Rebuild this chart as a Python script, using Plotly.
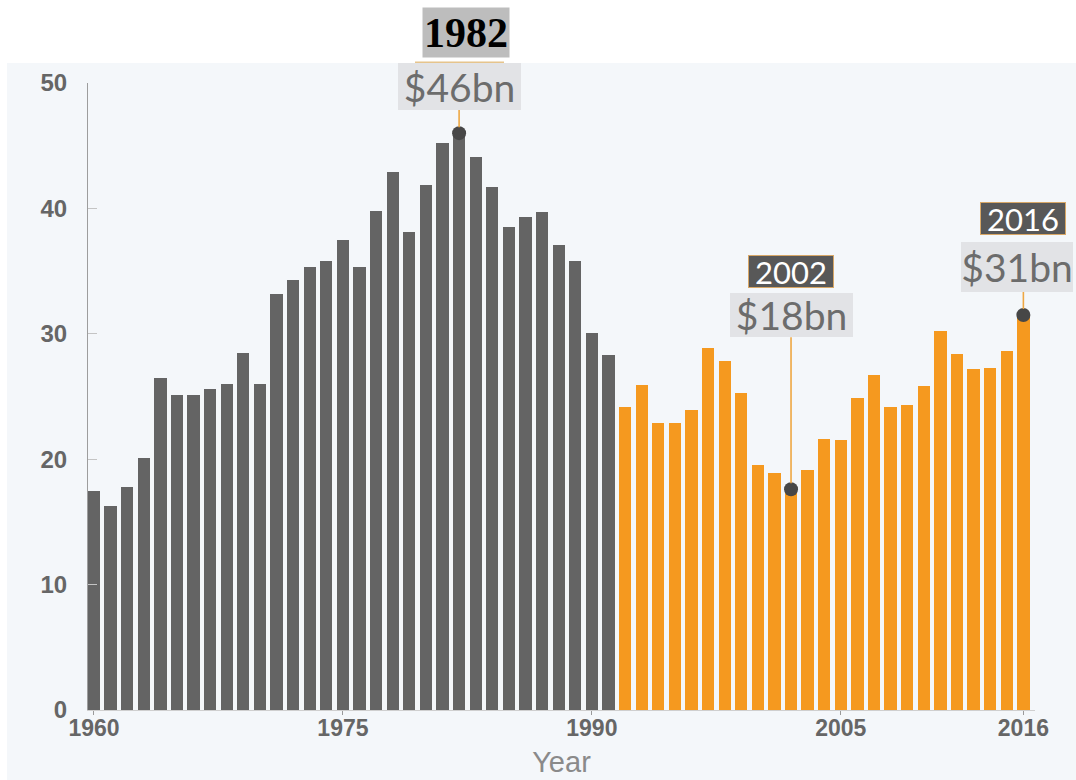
import plotly.graph_objects as go

years = list(range(1960, 2017))
values = [17.5, 16.3, 17.8, 20.1, 26.5, 25.1, 25.1, 25.6, 26.0, 28.5, 26.0, 33.2, 34.3, 35.3,
          35.8, 37.5, 35.3, 39.8, 42.9, 38.1, 41.9, 45.2, 46.0, 44.1, 41.7, 38.5, 39.3, 39.7,
          37.1, 35.8, 30.1, 28.3,
          24.2, 25.9, 22.9, 22.9, 23.9, 28.9, 27.8, 25.3, 19.5, 18.9, 17.6, 19.1, 21.6, 21.5,
          24.9, 26.7, 24.2, 24.3, 25.8, 30.2, 28.4, 27.2, 27.3, 28.6, 31.5]
split_year = 1992
highlight_years = [1982, 2002, 2016]
highlight_labels = ["$46bn", "$18bn", "$31bn"]
x_tickvals = [1960, 1975, 1990, 2005, 2016]
y_tickvals = [0, 10, 20, 30, 40, 50]

GRAY = "#646464"
ORANGE = "#f5991f"
BG = "#f4f7fa"

colors = [GRAY if y < split_year else ORANGE for y in years]
val = dict(zip(years, values))

fig = go.Figure()
fig.add_trace(go.Bar(x=years, y=values, marker=dict(color=colors, line=dict(width=0)),
                     width=0.74, hoverinfo="x+y"))
fig.add_trace(go.Scatter(x=highlight_years, y=[val[y] for y in highlight_years], mode="markers",
                         marker=dict(size=14, color="#474747"), hoverinfo="skip"))

# plot area geometry (px): left 88, right 1035, top 83, bottom 710
L, R, T, B = 88, 1035, 83, 710
pw, ph = R - L, B - T

ann = []
shapes = [
    dict(type="rect", xref="paper", yref="paper", layer="below",
         x0=(7 - L) / pw, x1=(1090 - L) / pw, y0=(B - 800) / ph, y1=(B - 63) / ph,
         fillcolor=BG, line=dict(width=0)),
    dict(type="line", xref="paper", yref="paper", layer="below",
         x0=(415 - L) / pw, x1=(504 - L) / pw, y0=(B - 63) / ph, y1=(B - 63) / ph,
         line=dict(color="#e6c48c", width=3)),
]

# value label boxes with leader lines (pixel offsets above the point)
value_offsets = {1982: 47, 2002: 174, 2016: 48}
value_sizes = {1982: (123, 47), 2002: (123, 44), 2016: (112, 50)}
value_xshift = {1982: 0, 2002: 0, 2016: -6}
for yr, lab in zip(highlight_years, highlight_labels):
    w, h = value_sizes[yr]
    ann.append(dict(x=yr, y=val[yr], xref="x", yref="y", text=lab, showarrow=False,
                    xshift=value_xshift[yr], yshift=value_offsets[yr],
                    width=w, height=h, bgcolor="#e2e3e6", borderpad=0, borderwidth=0,
                    font=dict(family="Lato, Open Sans, sans-serif", size=39, color="#6c6c6c")))
    shapes.append(dict(type="line", xref="x", yref="y", ysizemode="pixel", yanchor=val[yr],
                       x0=yr, x1=yr, y0=6, y1=value_offsets[yr] - h / 2,
                       line=dict(color="#eea743", width=1.6)))

# year label boxes
year_offsets = {2002: 218, 2016: 96}
for yr in [2002, 2016]:
    ann.append(dict(x=yr, y=val[yr], xref="x", yref="y", text=str(yr), showarrow=False,
                    yshift=year_offsets[yr], width=84, height=31, bgcolor="#585858",
                    bordercolor="#d8a766", borderwidth=1, borderpad=0,
                    font=dict(family="Lato, Open Sans, sans-serif", size=31, color="#ffffff")))

# 1982 year label (top, outside plot background)
ann.append(dict(x=1982, y=val[1982], xref="x", yref="y", text="<b>1982</b>", showarrow=False,
                yshift=101, xshift=7, width=86, height=49, bgcolor="#bdbdbd", borderpad=0,
                font=dict(family="Liberation Serif, Times New Roman, serif", size=42, color="#000000")))

fig.update_layout(
    width=1076, height=780,
    margin=dict(l=L, r=1076 - R, t=T, b=780 - B, pad=0, autoexpand=False),
    paper_bgcolor="#ffffff", plot_bgcolor=BG,
    showlegend=False, bargap=0,
    annotations=ann, shapes=shapes,
    xaxis=dict(range=[1959.64, 2016.7], tickvals=x_tickvals, ticktext=[str(v) for v in x_tickvals],
               automargin=False,
               showgrid=False, zeroline=False, showline=True, linecolor="#cfcfcf", linewidth=1,
               ticks="outside", ticklen=4, tickcolor="#9a9a9a", tickwidth=1,
               ticklabelstandoff=-7,
               tickfont=dict(family="Liberation Sans, Arial, sans-serif", size=23, color="#666666",
                             weight="bold"),
               title=dict(text="Year", standoff=12,
                          font=dict(family="Liberation Sans Narrow, Arial Narrow, sans-serif",
                                    size=29, color="#8a8a8a"))),
    yaxis=dict(range=[0, 50], tickvals=y_tickvals, showgrid=False, zeroline=False,
               automargin=False,
               showline=True, linecolor="#9d9d9d", linewidth=1,
               ticks="inside", ticklen=9, tickcolor="#c4c4c4", tickwidth=1,
               ticklabelstandoff=15,
               tickfont=dict(family="Liberation Sans, Arial, sans-serif", size=24, color="#666666",
                             weight="bold")),
)

fig.write_html("out.html")
